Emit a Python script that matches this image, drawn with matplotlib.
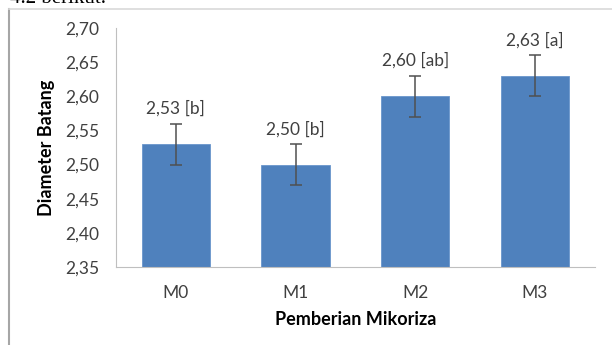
import matplotlib
matplotlib.use('Agg')
import matplotlib.pyplot as plt
from matplotlib.lines import Line2D
from matplotlib.ticker import FuncFormatter

perlakuan = ['M0', 'M1', 'M2', 'M3']
diameter = [2.53, 2.50, 2.60, 2.63]
galat = [0.03, 0.03, 0.03, 0.03]
notasi = ['[b]', '[b]', '[ab]', '[a]']
y_ticks = [2.35, 2.40, 2.45, 2.50, 2.55, 2.60, 2.65, 2.70]

plt.rcParams['font.family'] = ['Lato', 'DejaVu Sans']
teks = '#404040'

fig = plt.figure(figsize=(6.12, 3.45), dpi=100)
ax = fig.add_axes([0.1895, 0.226, 0.7825, 0.693])

x = range(len(perlakuan))
ax.bar(x, [d - 2.35 for d in diameter], bottom=2.35, width=0.57, color='#4F81BD',
       edgecolor='#6A96CC', linewidth=0.6, zorder=2)
ax.errorbar(x, diameter, yerr=galat, fmt='none', ecolor='#505050', elinewidth=1.1,
            capsize=4, capthick=1.1, zorder=3)
for i in x:
    ax.text(i, diameter[i] + galat[i] + 0.010, ('%.2f' % diameter[i]).replace('.', ',') + ' ' + notasi[i],
            ha='center', va='bottom', fontsize=12.5, color=teks)

ax.set_xlim(-0.5, 3.5)
ax.set_ylim(2.35, 2.70)
ax.set_yticks(y_ticks)
ax.yaxis.set_major_formatter(FuncFormatter(lambda v, p: ('%.2f' % v).replace('.', ',')))
ax.set_xticks(list(x))
ax.set_xticklabels(perlakuan)
ax.tick_params(axis='both', length=0, labelsize=12.5, labelcolor=teks)
ax.tick_params(axis='y', pad=12)
ax.tick_params(axis='x', pad=13)
for s in ['top', 'right']:
    ax.spines[s].set_visible(False)
ax.spines['left'].set_color('#BFBFBF')
ax.spines['bottom'].set_color('#BFBFBF')
ax.set_xlabel('Pemberian Mikoriza', fontsize=13, fontweight='bold', color='black', labelpad=7)
ax.set_ylabel('Diameter Batang', fontsize=13, fontweight='bold', color='black', labelpad=7)

# bingkai grafik dan potongan teks di atas
fig.add_artist(Line2D([9 / 612, 9 / 612], [0, 1 - 9 / 345], color='#A6A6A6', linewidth=1.5))
fig.add_artist(Line2D([9 / 612, 1], [1 - 9 / 345, 1 - 9 / 345], color='#D9D9D9', linewidth=1.2))
fig.text(10 / 612, 1 + 11 / 345, '4.2 berikut.', family=['Liberation Serif', 'DejaVu Serif'],
         fontsize=15, va='top', ha='left', color='black')

fig.savefig('out.png', dpi=100)
